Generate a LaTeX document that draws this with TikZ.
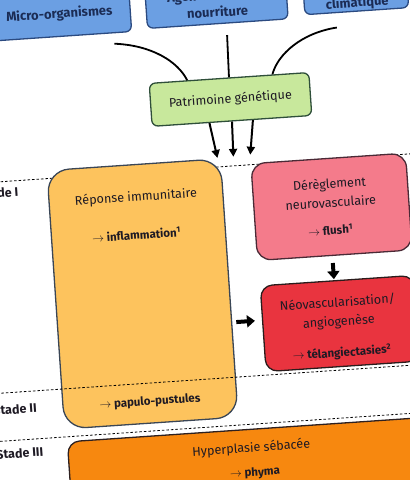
\documentclass[tikz,border=0pt]{standalone}
\usepackage{fontspec}
\setmainfont{Fira Sans}
\usetikzlibrary{arrows.meta,calc}
\definecolor{bluefill}{HTML}{6B9FE3}
\definecolor{blueline}{HTML}{2B4A80}
\definecolor{bluetext}{HTML}{1B2C55}
\definecolor{greenfill}{HTML}{C8E89C}
\definecolor{greenline}{HTML}{2F4F3A}
\definecolor{orfill}{HTML}{FDC35D}
\definecolor{orline}{HTML}{3A4656}
\definecolor{pinkfill}{HTML}{F47B8B}
\definecolor{pinkline}{HTML}{4A2A36}
\definecolor{redfill}{HTML}{E9343F}
\definecolor{redline}{HTML}{2A1C1C}
\definecolor{hypfill}{HTML}{F7880F}
\definecolor{hypline}{HTML}{2D2020}
\definecolor{ink}{HTML}{1E1A24}
\tikzset{
  box/.style={draw, line width=1.3pt, inner sep=0pt},
  txt/.style={font=\fontsize{12.6}{19}\selectfont, text=ink, inner sep=0pt},
  btxt/.style={font=\fontsize{11.5}{14}\selectfont\bfseries, text=ink, inner sep=0pt},
  topt/.style={font=\fontsize{13}{15}\selectfont\bfseries, text=bluetext, inner sep=0pt},
  conn/.style={line width=1.8pt, black},
  darrow/.style={line width=2pt, black, -{Triangle[length=8pt,width=8pt]}},
  bigarrow/.style={line width=4pt, black, -{Triangle[length=8pt,width=12pt]}},
  sepline/.style={dashed, dash pattern=on 2.5pt off 2pt, line width=0.8pt, black},
  stagelbl/.style={anchor=west, font=\fontsize{12.5}{14}\selectfont\bfseries, text=ink, inner sep=0pt}
}
\begin{document}
\begin{tikzpicture}[x=1pt,y=-1pt]
\useasboundingbox (0,0) rectangle (410,480);
\clip (0,0) rectangle (410,480);
\fill[white] (0,0) rectangle (410,480);
\begin{scope}[rotate around={3.9:(205,240)}, transform shape]
  % top boxes
  \node[box, draw=blueline, fill=bluefill, rounded corners=6pt, minimum width=142pt, minimum height=60pt] (micro) at (75,-3) {};
  \node[topt] (microt) at (75,5) {Micro-organismes};
  \node[box, draw=blueline, fill=bluefill, rounded corners=6pt, minimum width=141pt, minimum height=65pt] (agents) at (232.5,-7.5) {};
  \node[topt] (agentsa) at (233,-3) {Agents irritants/};
  \node[topt] (agentsb) at (233,13) {nourriture};
  \node[box, draw=blueline, fill=bluefill, rounded corners=6pt, minimum width=104pt, minimum height=62pt] (clim) at (372,-9) {};
  \node[topt] (climt) at (373,14) {climatique};
  % genetic
  \node[box, draw=greenline, fill=greenfill, rounded corners=6pt, minimum width=160pt, minimum height=43pt] (gen) at (240,101.5) {};
  \node[txt] (gent) at (240,101.5) {Patrimoine génétique};
  % connectors to genetic
  \coordinate (cL) at (128,38);
  \coordinate (cM) at (241,37);
  \coordinate (cR) at (351,37);
  \draw[conn] (cL) .. controls (165,42) and (190,60) .. ($(gen.north west)!0.24!(gen.north east)$);
  \draw[conn] (cM) -- ($(gen.north west)!0.5!(gen.north east)$);
  \draw[conn] (cR) .. controls (315,40) and (290,60) .. ($(gen.north west)!0.77!(gen.north east)$);
  % arrows down
  \coordinate (d1) at (223,159);
  \coordinate (d2) at (239,159);
  \coordinate (d3) at (256,158);
  \draw[darrow] ($(gen.south west)!0.36!(gen.south east)$) -- (d1);
  \draw[darrow] ($(gen.south west)!0.5!(gen.south east)$) -- (d2);
  \draw[darrow] ($(gen.south west)!0.63!(gen.south east)$) -- (d3);
  % separator 1
  \coordinate (s1a) at (-40,168);
  \coordinate (s1b) at (450,168);
  \draw[sepline] (s1a) -- (s1b);
  \node[stagelbl] (st1) at (-18,179) {Stade I};
  % immune box
  \node[box, draw=orline, fill=orfill, rounded corners=22pt, minimum width=174pt, minimum height=259pt] (imm) at (139,289.5) {};
  \node[txt] (immt) at (139,193) {Réponse immunitaire};
  \node[btxt] (infl) at (137,230) {$\rightarrow$ inflammation\textsuperscript{1}};
  \node[btxt] (papu) at (139,398) {$\rightarrow$ papulo-pustules};
  % neurovascular box
  \node[box, draw=pinkline, fill=pinkfill, rounded corners=14pt, minimum width=155pt, minimum height=97pt] (neuro) at (333.5,215.5) {};
  \node[txt, align=center] (neurot) at (333,201.5) {Dérèglement\\neurovasculaire};
  \node[btxt] (flush) at (331,238.5) {$\rightarrow$ flush\textsuperscript{1}};
  % neovascularisation box
  \node[box, draw=redline, fill=redfill, rounded corners=12pt, minimum width=154pt, minimum height=86pt] (neo) at (334,332.5) {};
  \node[txt, align=center] (neot) at (333,321.5) {Néovascularisation/\\angiogenèse};
  \node[btxt] (tel) at (334,362) {$\rightarrow$ télangiectasies\textsuperscript{2}};
  % arrows between boxes
  \draw[bigarrow, shorten <=7pt, shorten >=1pt] (neuro.south -| flush) -- (neo.north -| flush);
  \draw[bigarrow, shorten <=4pt, shorten >=7pt] (imm.east |- 0,324) -- (neo.west |- 0,324);
  % separator 2
  \coordinate (s2a) at (-40,379);
  \coordinate (s2b) at (450,379);
  \draw[sepline] (s2a) -- (s2b);
  \node[stagelbl] (st2) at (-18,396) {Stade II};
  % separator 3
  \coordinate (s3a) at (-40,427);
  \coordinate (s3b) at (450,427);
  \draw[sepline] (s3a) -- (s3b);
  \node[stagelbl] (st3) at (-18,440) {Stade III};
  % hyperplasia box
  \node[box, draw=hypline, fill=hypfill, rounded corners=12pt, minimum width=370pt, minimum height=100pt] (hyp) at (239,482) {};
  \node[txt] (hypt) at (237,451) {Hyperplasie sébacée};
  \node[btxt] (phy) at (239,476) {$\rightarrow$ phyma};
\end{scope}
\end{tikzpicture}
\end{document}
